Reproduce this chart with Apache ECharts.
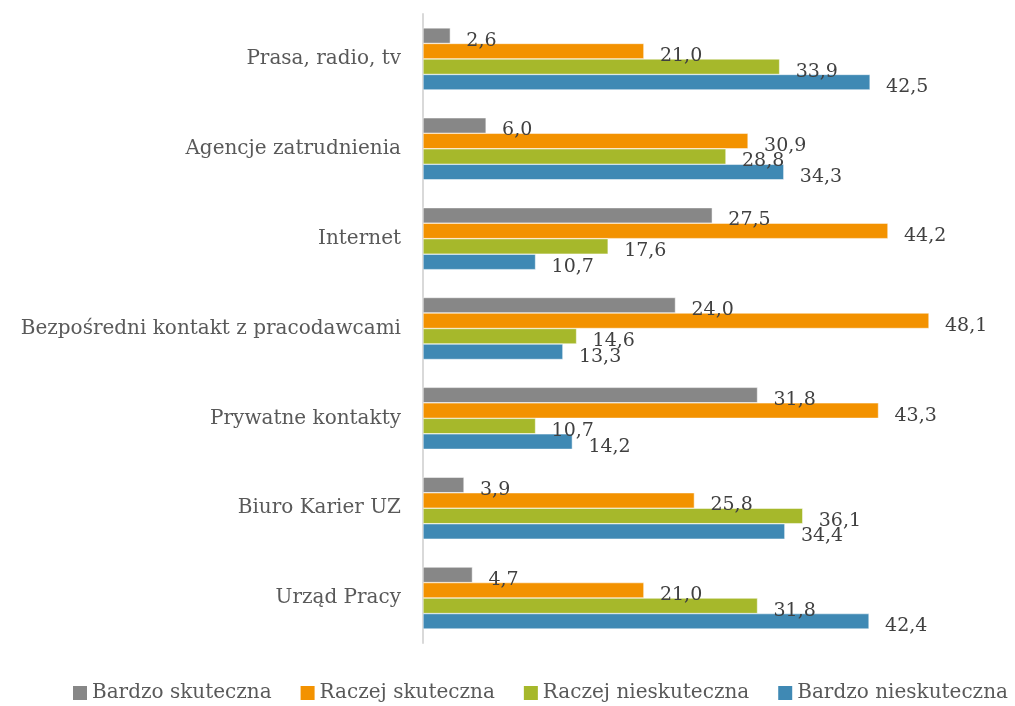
<!DOCTYPE html>
<html>
<head>
<meta charset="utf-8">
<script src="https://cdn.jsdelivr.net/npm/echarts@6/dist/echarts.min.js"></script>
<style>
  html, body { margin: 0; padding: 0; background: #fff; }
  #chart { width: 1015px; height: 706px; }
</style>
</head>
<body>
<div id="chart"></div>
<script>
// kategorie (od góry)
var categories = ['Prasa, radio, tv', 'Agencje zatrudnienia', 'Internet',
    'Bezpośredni kontakt z pracodawcami', 'Prywatne kontakty', 'Biuro Karier UZ', 'Urząd Pracy'];
var seriesNames = ['Bardzo skuteczna', 'Raczej skuteczna', 'Raczej nieskuteczna', 'Bardzo nieskuteczna'];
var bardzoSkuteczna    = [2.6, 6.0, 27.5, 24.0, 31.8, 3.9, 4.7];
var raczejSkuteczna    = [21.0, 30.9, 44.2, 48.1, 43.3, 25.8, 21.0];
var raczejNieskuteczna = [33.9, 28.8, 17.6, 14.6, 10.7, 36.1, 31.8];
var bardzoNieskuteczna = [42.5, 34.3, 10.7, 13.3, 14.2, 34.4, 42.4];
var colors = ['#878787', '#f39200', '#a6b82b', '#3f89b4'];

var font = 'DejaVu Serif';
var allData = [bardzoSkuteczna, raczejSkuteczna, raczejNieskuteczna, bardzoNieskuteczna];

var series = [];
for (var i = 0; i < seriesNames.length; i++) {
    series.push({
        name: seriesNames[i],
        type: 'bar',
        data: allData[i],
        barGap: '0%',
        barCategoryGap: '31%',
        itemStyle: { color: colors[i], borderColor: '#fff', borderWidth: 0.5 },
        label: {
            show: true,
            position: 'right',
            distance: 16,
            offset: [0, 5],
            color: '#404040',
            fontFamily: font,
            fontSize: 19,
            formatter: function (p) { return p.value.toFixed(1).replace('.', ','); }
        }
    });
}

var myChart = echarts.init(document.getElementById('chart'));
var option = {
    backgroundColor: '#fff',
    animation: false,
    grid: { left: 423, right: 66, top: 14, bottom: 63 },
    legend: {
        data: seriesNames,
        bottom: -2,
        left: 68,
        itemWidth: 14,
        itemHeight: 14,
        itemGap: 29,
        icon: 'rect',
        itemStyle: { borderWidth: 0 },
        textStyle: { color: '#595959', fontFamily: font, fontSize: 20 }
    },
    xAxis: {
        type: 'value',
        min: 0,
        max: 50,
        show: false
    },
    yAxis: {
        type: 'category',
        data: categories,
        inverse: true,
        axisLine: { lineStyle: { color: '#d9d9d9', width: 2 } },
        axisTick: { show: false },
        axisLabel: { color: '#595959', fontFamily: font, fontSize: 20, margin: 22 }
    },
    series: series
};
myChart.setOption(option);
</script>
</body>
</html>
